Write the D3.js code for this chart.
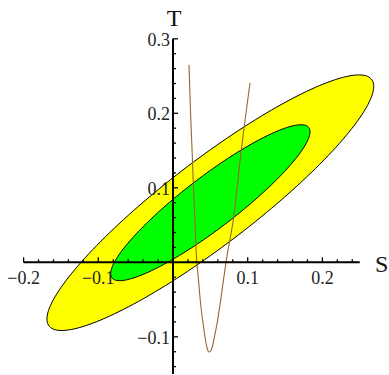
<!DOCTYPE html>
<html><head><meta charset="utf-8">
<script src="https://cdn.jsdelivr.net/npm/d3@7"></script>
<style>html,body{margin:0;padding:0;background:#fff;}svg{display:block;}</style>
</head><body>
<svg id="chart" width="389" height="375"></svg>
<script>
// ---- data ----
const fitCenter = [0.05, 0.08];          // S, T central values
const fitSigma = [0.088, 0.069];         // sigma S, sigma T
const fitRho = 0.91;                     // correlation
const chi2Levels = [6.18, 2.30];         // 2σ (outer), 1σ (inner)
const levelColors = ["#ffff00", "#00ff00"];
const curveS = [0.0214,0.0234,0.0258,0.0272,0.0295,0.0317,0.0345,0.0371,0.0415,0.0445,0.0470,0.0486,0.0505,0.0530,0.0555,0.0590,0.0629,0.0719,0.0807,0.0906,0.0964,0.1031];
const curveT = [0.265,0.204,0.1436,0.106,0.052,0.003,-0.028,-0.057,-0.091,-0.110,-0.119,-0.1205,-0.119,-0.112,-0.100,-0.082,-0.057,0.006,0.057,0.1436,0.190,0.241];
const xMajor = [-0.2,-0.1,0.1,0.2];
const yMajor = [-0.1,0.1,0.2,0.3];
const xMinor = d3.range(-18,25,2).map(d=>d/100).filter(d=>Math.abs(d*10-Math.round(d*10))>1e-6);
const yMinor = d3.range(-14,31,2).map(d=>d/100).filter(d=>Math.abs(d*10-Math.round(d*10))>1e-6);

const svg = d3.select("#chart");
const x = d3.scaleLinear().domain([-0.2, 0.25]).range([23.6, 359.75]);
const y = d3.scaleLinear().domain([-0.15, 0.3]).range([374.05, 38.8]);
const fmt = v => (v<0?"\u2212":"") + Math.abs(v).toFixed(1);
const font = "Liberation Serif, Times New Roman, serif";

// confidence ellipses
const ts = d3.range(0, 361, 2).map(d=>d*Math.PI/180);
chi2Levels.forEach((k,i)=>{
  const r = Math.sqrt(k);
  const pts = ts.map(t=>[
    x(fitCenter[0] + r*fitSigma[0]*Math.cos(t)),
    y(fitCenter[1] + r*fitSigma[1]*(fitRho*Math.cos(t) + Math.sqrt(1-fitRho*fitRho)*Math.sin(t)))
  ]);
  svg.append("path").attr("d", d3.line().curve(d3.curveLinearClosed)(pts))
    .attr("fill", levelColors[i]).attr("stroke","#000").attr("stroke-width",1);
});

// brown curve
const cpts = curveS.map((s,i)=>[x(s), y(curveT[i])]);
svg.append("path").attr("d", d3.line().curve(d3.curveCatmullRom)(cpts))
  .attr("fill","none").attr("stroke","#996633").attr("stroke-width",1.1);

// axes
const ax = svg.append("g").attr("stroke","#000");
ax.append("line").attr("x1",x(-0.2)).attr("x2",x(0.25)).attr("y1",y(0)).attr("y2",y(0)).attr("stroke-width",2);
ax.append("line").attr("y1",y(-0.15)).attr("y2",y(0.3)).attr("x1",x(0)).attr("x2",x(0)).attr("stroke-width",2);
ax.selectAll(".xM").data(xMajor).join("line").attr("x1",d=>x(d)).attr("x2",d=>x(d)).attr("y1",y(0)).attr("y2",y(0)-5).attr("stroke-width",1.3);
ax.selectAll(".xm").data(xMinor).join("line").attr("x1",d=>x(d)).attr("x2",d=>x(d)).attr("y1",y(0)).attr("y2",y(0)-3).attr("stroke-width",1.3);
ax.selectAll(".yM").data(yMajor).join("line").attr("y1",d=>y(d)).attr("y2",d=>y(d)).attr("x1",x(0)).attr("x2",x(0)+5).attr("stroke-width",1.3);
ax.selectAll(".ym").data(yMinor).join("line").attr("y1",d=>y(d)).attr("y2",d=>y(d)).attr("x1",x(0)).attr("x2",x(0)+3).attr("stroke-width",1.3);

// tick labels (drawn on top)
svg.append("g").selectAll("text").data(xMajor).join("text")
  .attr("x", d=>x(d)).attr("y", y(0)+22).attr("text-anchor","middle")
  .attr("font-family",font).attr("font-size",18).attr("fill","#222").text(fmt);
svg.append("g").selectAll("text").data(yMajor).join("text")
  .attr("x", x(0)-3).attr("y", d=>y(d)+7).attr("text-anchor","end")
  .attr("font-family",font).attr("font-size",18).attr("fill","#222").text(fmt);

// axis labels
svg.append("text").attr("x",375).attr("y",272).attr("font-family",font).attr("font-size",24).attr("fill","#111").text("S");
svg.append("text").attr("x",x(0)+1).attr("y",26).attr("text-anchor","middle").attr("font-family",font).attr("font-size",24).attr("fill","#111").text("T");
</script>
</body></html>
